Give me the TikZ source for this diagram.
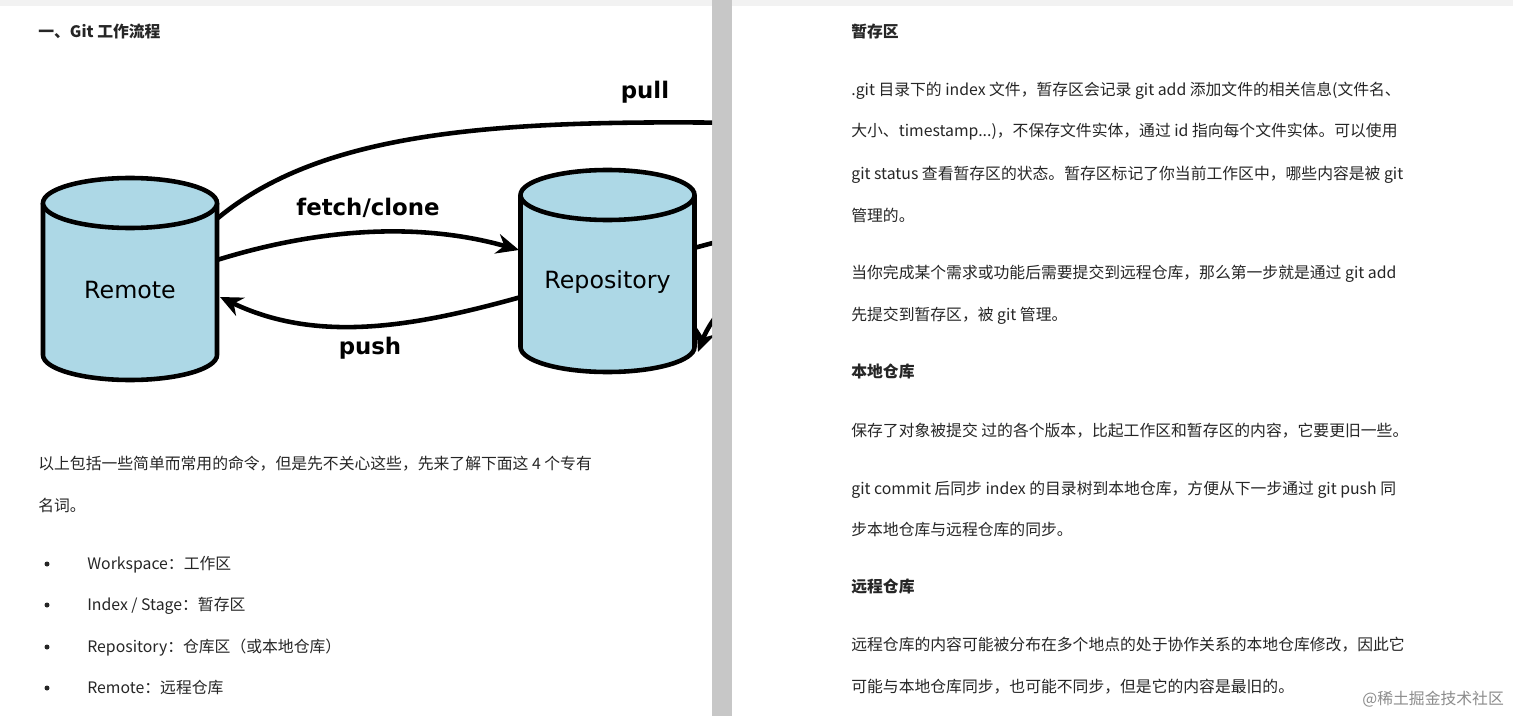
\documentclass[tikz,border=0pt]{standalone}
\usepackage{fontspec}
\setmainfont{Noto Sans CJK SC}
\newfontfamily\djv{DejaVu Sans}
\usetikzlibrary{arrows.meta}

\definecolor{cylblue}{HTML}{ADD8E6}
\definecolor{bodytext}{HTML}{262626}

\tikzset{
  txt/.style={anchor=base west, inner sep=0pt, text=bodytext, font=\fontsize{9pt}{11pt}\selectfont},
  head/.style={txt, font=\fontsize{9pt}{11pt}\selectfont\bfseries},
  lbl/.style={inner sep=0pt, font=\djv\fontsize{13pt}{15pt}\selectfont\bfseries},
  cylname/.style={inner sep=0pt, font=\djv\fontsize{13.5pt}{15pt}\selectfont},
  flow/.style={line width=2.6pt, -{Stealth[length=0.45cm,width=0.4cm]}},
}

% body of a cylinder: centre x, top y, bottom y
\newcommand{\gitcyl}[3]{%
  \filldraw[fill=cylblue, line width=2.6pt]
    (#1-87,#2) -- (#1-87,#3) arc[start angle=180,end angle=0,x radius=87,y radius=25] -- (#1+87,#2);
  \filldraw[fill=cylblue, line width=2.6pt] (#1,#2) ellipse[x radius=87,y radius=25];
}

\begin{document}
\begin{tikzpicture}[x=0.02cm,y=-0.02cm]
 \useasboundingbox (0,0) rectangle (1513,716);
 \fill[white] (0,0) rectangle (1513,716);
 \fill[black!5] (0,0) rectangle (1513,6);
 \fill[black!22] (712,0) rectangle (732,716);

 % Schema Git
 \begin{scope}
  \clip (0,6) rectangle (712,716);
  \gitcyl{130}{203}{355}
  \gitcyl{607.5}{195}{347}
  \node[cylname] (remote) at (130,290) {Remote};
  \node[cylname] (repo) at (607.5,282) {Repository};

  \coordinate (remFetch) at (217,260);
  \coordinate (remPush) at (220,297);
  \coordinate (remPull) at (218,218);
  \coordinate (repFetch) at (519,250);
  \coordinate (repPush) at (521,297);
  \coordinate (repOut) at (694,248);
  \coordinate (repIn) at (698,352);
  \coordinate (offPull) at (800,124);
  \coordinate (offOut) at (780,225);
  \coordinate (offIn) at (790,250);

  \draw[flow] (remFetch) .. controls (320,228) and (420,222) .. (repFetch);
  \draw[flow] (repPush) .. controls (420,325) and (320,345) .. (remPush);
  \draw[line width=2.6pt] (remPull) .. controls (330,125) and (520,118) .. (offPull);
  \draw[line width=2.6pt] (repOut) -- (offOut);
  \draw[flow] (offIn) .. controls (740,280) and (710,320) .. (repIn);

  \node[lbl] (pull) at (645,92) {pull};
  \node[lbl] (fetch) at (368,208) {fetch/clone};
  \node[lbl] (push) at (370,348) {push};
 \end{scope}

 % page gauche
 \node[head] (t1) at (38,38) {一、Git 工作流程};
 \node[txt] (p1) at (38,469) {以上包括一些简单而常用的命令，但是先不关心这些，先来了解下面这 4 个专有};
 \node[txt] (p2) at (38,511) {名词。};
 \foreach \y/\t in {569/{Workspace：工作区}, 610/{Index / Stage：暂存区},
                    652/{Repository：仓库区（或本地仓库）}, 693/{Remote：远程仓库}}{
   \fill[bodytext] (47,\y-5) circle (2.5);
   \node[txt] at (87,\y) {\t};
 }

 % page droite
 \node[head] (h1) at (851,38) {暂存区};
 \node[txt] at (851,96) {.git 目录下的 index 文件，暂存区会记录 git add 添加文件的相关信息(文件名、};
 \node[txt] at (851,137) {大小、timestamp...)，不保存文件实体，通过 id 指向每个文件实体。可以使用};
 \node[txt] at (851,179) {git status 查看暂存区的状态。暂存区标记了你当前工作区中，哪些内容是被 git};
 \node[txt] at (851,221) {管理的。};
 \node[txt] at (851,278) {当你完成某个需求或功能后需要提交到远程仓库，那么第一步就是通过 git add};
 \node[txt] at (851,320) {先提交到暂存区，被 git 管理。};
 \node[head] (h2) at (851,377) {本地仓库};
 \node[txt] at (851,436) {保存了对象被提交 过的各个版本，比起工作区和暂存区的内容，它要更旧一些。};
 \node[txt] at (851,494) {git commit 后同步 index 的目录树到本地仓库，方便从下一步通过 git push 同};
 \node[txt] at (851,535) {步本地仓库与远程仓库的同步。};
 \node[head] (h3) at (851,592) {远程仓库};
 \node[txt] at (851,650) {远程仓库的内容可能被分布在多个地点的处于协作关系的本地仓库修改，因此它};
 \node[txt] at (851,692) {可能与本地仓库同步，也可能不同步，但是它的内容是最旧的。};
 \node[txt, text=black!45] (wm) at (1362,704) {@稀土掘金技术社区};
\end{tikzpicture}
\end{document}
